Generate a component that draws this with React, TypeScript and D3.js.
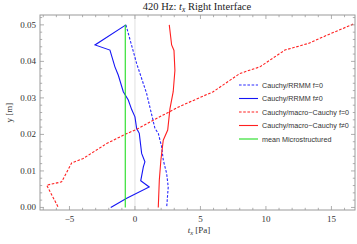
import { useRef, useEffect } from "react";
import * as d3 from "d3";

type Pt = [number, number];

// [t_x, y]
const rrmmF0: Pt[] = [
    [-0.69, 0.05], [0.13, 0.0394], [0.89, 0.0312], [1.53, 0.0216], [1.78, 0.0203],
    [2.04, 0.0166], [2.16, 0.013], [2.42, 0.0093], [2.54, 0.0056], [2.42, 0.0],
];
const rrmmF: Pt[] = [
    [-0.69, 0.05], [-3.05, 0.0445], [-1.91, 0.0431], [-1.53, 0.0385], [-1.27, 0.0362],
    [-0.89, 0.0317], [-0.51, 0.0294], [-0.25, 0.0268], [0.0, 0.0248], [0.13, 0.0216],
    [0.33, 0.0203], [0.51, 0.0148], [0.76, 0.0125], [0.64, 0.0111], [0.44, 0.0073],
    [1.09, 0.0056], [-0.63, 0.0025], [-1.85, 0.0],
];
const macroF0: Pt[] = [
    [16.66, 0.0502], [15.0, 0.0477], [13.23, 0.0449], [11.45, 0.0431], [9.54, 0.0385],
    [8.02, 0.0367], [5.98, 0.0317], [3.44, 0.0277], [1.4, 0.0239], [0.25, 0.0216],
    [-0.76, 0.02], [-1.65, 0.0184], [-2.16, 0.0175], [-3.95, 0.0134], [-4.83, 0.0122],
    [-5.6, 0.007], [-6.74, 0.0061], [-5.85, 0.0],
];
const macroF: Pt[] = [
    [2.62, 0.05], [2.8, 0.0445], [2.98, 0.043], [3.05, 0.0375], [2.92, 0.0317],
    [2.67, 0.027], [2.5, 0.0212], [2.16, 0.0184], [1.98, 0.013], [1.86, 0.0075], [1.78, 0.0],
];
const meanMicro: Pt[] = [[-0.74, 0.05], [-0.74, 0.0]];

const xTicks = [-5, 0, 5, 10, 15];
const yTicks = [0.0, 0.01, 0.02, 0.03, 0.04, 0.05];

const series = [
    { name: "Cauchy/RRMM f=0", data: rrmmF0, color: "#2a2aff", dash: "2.6,1.6" },
    { name: "Cauchy/RRMM f\u22600", data: rrmmF, color: "#1515f5", dash: "" },
    { name: "Cauchy/macro\u2212Cauchy f=0", data: macroF0, color: "#ff2020", dash: "2.6,1.6" },
    { name: "Cauchy/macro\u2212Cauchy f\u22600", data: macroF, color: "#ff2020", dash: "" },
    { name: "mean Microstructured", data: meanMicro, color: "#22dd22", dash: "" },
];

export default function App() {
    const svgRef = useRef<SVGSVGElement>(null);

    useEffect(() => {
        if (!svgRef.current) return;
        document.body.style.margin = "0";
        const svg = d3.select(svgRef.current);
        svg.selectAll("*").remove();

        const width = 357;
        const height = 244;
        const margin = { top: 15, right: 2, bottom: 34, left: 40 };
        const x = d3.scaleLinear().domain([-7.25, 16.8]).range([margin.left, width - margin.right]);
        const y = d3.scaleLinear().domain([-0.0007, 0.0527]).range([height - margin.bottom, margin.top]);
        const frameColor = "#9a9a9a";
        const serif = "'Liberation Serif', 'DejaVu Serif', serif";

        svg.attr("width", width).attr("height", height);

        // zero line
        svg.append("line")
            .attr("x1", x(0)).attr("x2", x(0))
            .attr("y1", y.range()[1]).attr("y2", y.range()[0])
            .attr("stroke", "#e0e0e0").attr("stroke-width", 1);

        const clipId = "plotclip";
        svg.append("clipPath").attr("id", clipId)
            .append("rect")
            .attr("x", margin.left).attr("y", margin.top)
            .attr("width", width - margin.left - margin.right)
            .attr("height", height - margin.top - margin.bottom);

        const line = d3.line<Pt>().x((d) => x(d[0])).y((d) => y(d[1]));

        series.forEach((s) => {
            svg.append("path")
                .attr("d", line(s.data))
                .attr("fill", "none")
                .attr("stroke", s.color)
                .attr("stroke-width", 1.1)
                .attr("stroke-dasharray", s.dash)
                .attr("clip-path", `url(#${clipId})`);
        });

        // frame
        const fx0 = margin.left, fx1 = width - margin.right;
        const fy0 = margin.top, fy1 = height - margin.bottom;
        svg.append("rect")
            .attr("x", fx0).attr("y", fy0)
            .attr("width", fx1 - fx0).attr("height", fy1 - fy0)
            .attr("fill", "none").attr("stroke", frameColor).attr("stroke-width", 1);

        const ticks = svg.append("g").attr("stroke", frameColor).attr("stroke-width", 0.8);
        // x ticks
        d3.range(-7, 17, 1).forEach((v) => {
            const major = v % 5 === 0;
            const len = major ? 4 : 2.2;
            ticks.append("line").attr("x1", x(v)).attr("x2", x(v)).attr("y1", fy1).attr("y2", fy1 - len);
            ticks.append("line").attr("x1", x(v)).attr("x2", x(v)).attr("y1", fy0).attr("y2", fy0 + len);
        });
        // y ticks
        d3.range(0, 0.0521, 0.002).forEach((v, i) => {
            const major = i % 5 === 0;
            const len = major ? 4 : 2.2;
            ticks.append("line").attr("x1", fx0).attr("x2", fx0 + len).attr("y1", y(v)).attr("y2", y(v));
            ticks.append("line").attr("x1", fx1).attr("x2", fx1 - len).attr("y1", y(v)).attr("y2", y(v));
        });

        svg.append("g").selectAll("text").data(xTicks).enter().append("text")
            .attr("x", (d) => x(d)).attr("y", fy1 + 12)
            .attr("text-anchor", "middle")
            .attr("font-family", serif).attr("font-size", 9).attr("fill", "#333")
            .text((d) => (d < 0 ? "\u2212" + Math.abs(d) : String(d)));

        svg.append("g").selectAll("text").data(yTicks).enter().append("text")
            .attr("x", fx0 - 4).attr("y", (d) => y(d) + 3)
            .attr("text-anchor", "end")
            .attr("font-family", serif).attr("font-size", 9).attr("fill", "#333")
            .text((d) => d.toFixed(2));

        // title
        const title = svg.append("text")
            .attr("x", 197).attr("y", 10)
            .attr("text-anchor", "middle")
            .attr("font-family", serif).attr("font-size", 10.5).attr("fill", "#222");
        title.append("tspan").text("420 Hz: ");
        title.append("tspan").attr("font-style", "italic").text("t");
        title.append("tspan").attr("font-size", 7.5).attr("dy", 2).attr("font-style", "italic").text("x");
        title.append("tspan").attr("dy", -2).text(" Right Interface");

        // x label
        const xl = svg.append("text")
            .attr("x", 199).attr("y", 233)
            .attr("text-anchor", "middle")
            .attr("font-family", serif).attr("font-size", 9).attr("fill", "#333");
        xl.append("tspan").attr("font-style", "italic").text("t");
        xl.append("tspan").attr("font-size", 6.5).attr("dy", 2).attr("font-style", "italic").text("x");
        xl.append("tspan").attr("dy", -2).text(" [Pa]");

        svg.append("text")
            .attr("transform", `translate(12, ${(fy0 + fy1) / 2}) rotate(-90)`)
            .attr("text-anchor", "middle")
            .attr("font-family", serif).attr("font-size", 9).attr("fill", "#333")
            .text("y [m]");

        // legend
        const lg = svg.append("g").attr("transform", "translate(239, 85)");
        series.forEach((s, i) => {
            const row = lg.append("g").attr("transform", `translate(0, ${i * 13.5})`);
            row.append("line")
                .attr("x1", 0).attr("x2", 19).attr("y1", 0).attr("y2", 0)
                .attr("stroke", s.color).attr("stroke-width", 1.1)
                .attr("stroke-dasharray", s.dash);
            row.append("text")
                .attr("x", 23).attr("y", 2.5)
                .attr("font-family", "'Liberation Sans', Arial, sans-serif")
                .attr("font-size", 7.2).attr("fill", "#333")
                .text(s.name);
        });
    }, []);

    return <svg ref={svgRef} style={{ display: "block" }} />;
}
